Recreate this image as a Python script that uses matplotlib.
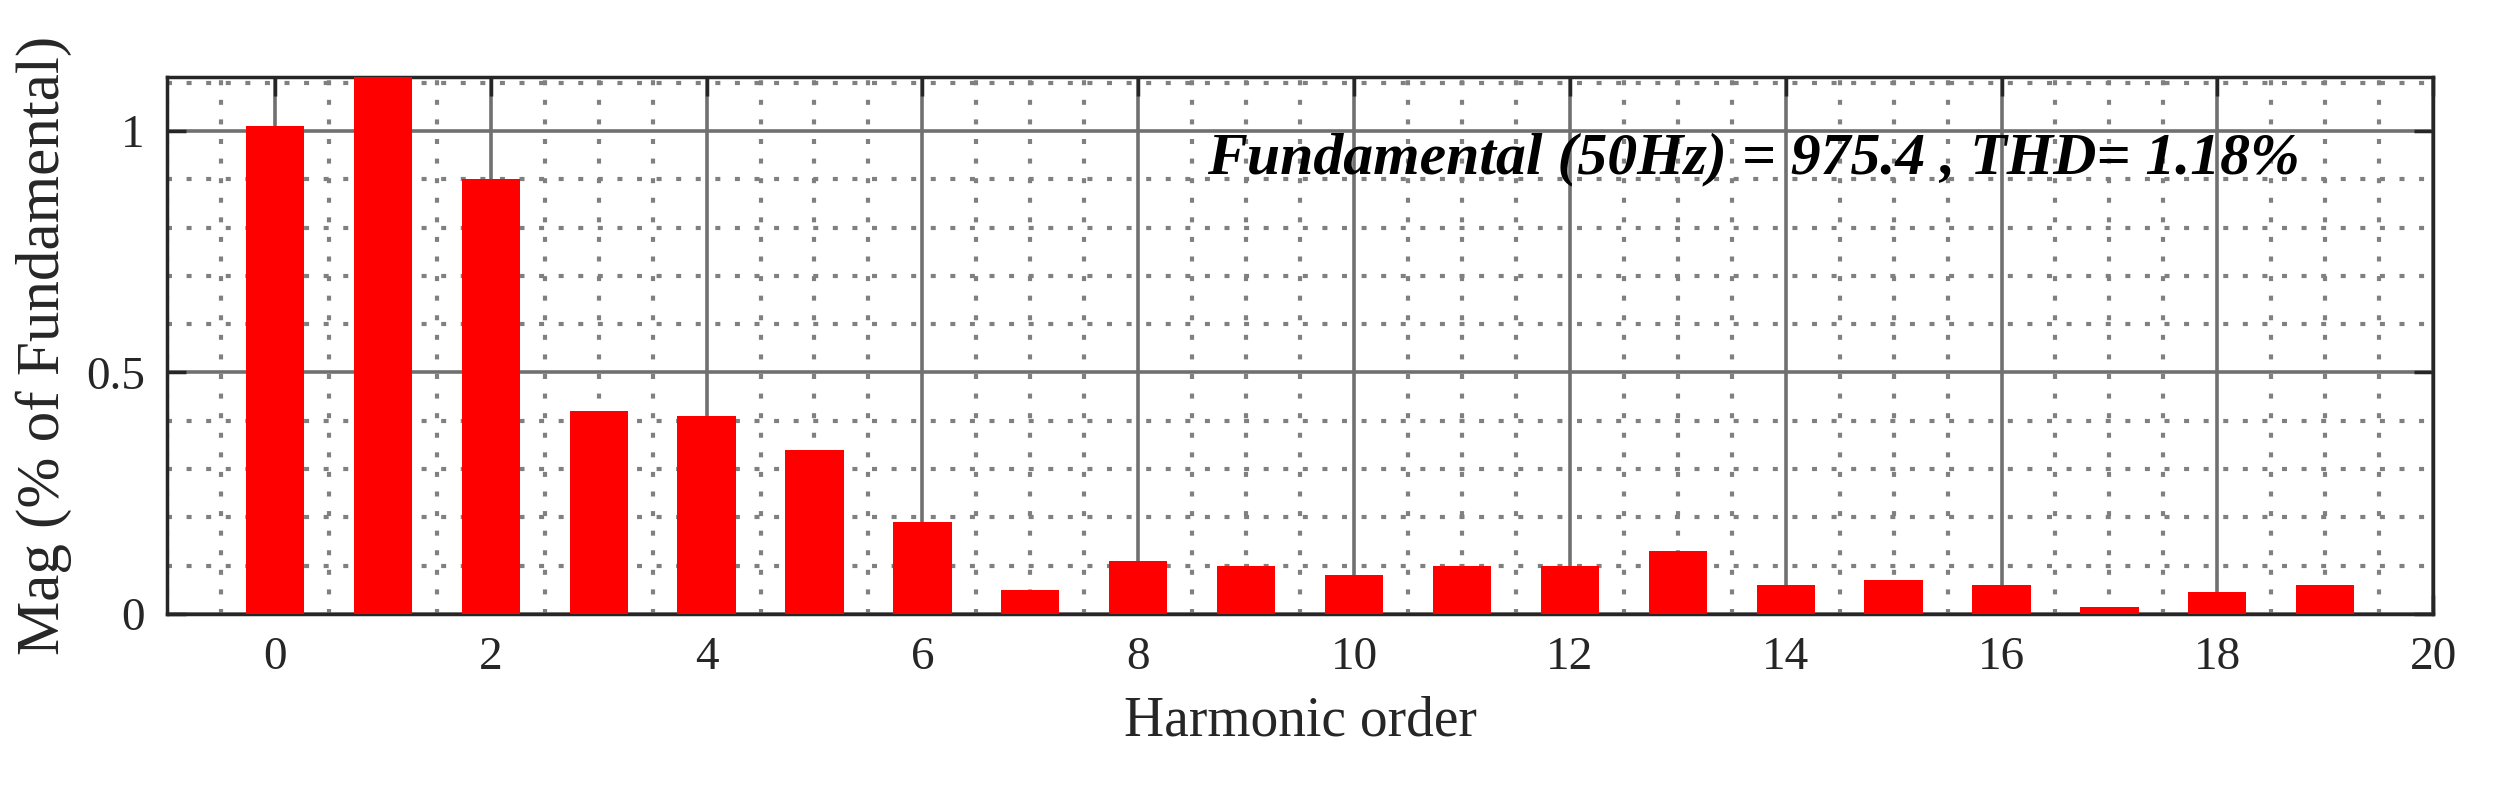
import matplotlib
matplotlib.use("Agg")
import matplotlib.pyplot as plt
import numpy as np
from matplotlib.ticker import MultipleLocator

plt.rcParams['font.family'] = ['Liberation Serif', 'DejaVu Serif']

harmonics = list(range(20))
magnitudes = [1.01, 1.12, 0.90, 0.42, 0.41, 0.34, 0.19, 0.05, 0.11, 0.10,
              0.08, 0.10, 0.10, 0.13, 0.06, 0.07, 0.06, 0.015, 0.045, 0.06]
xticks = list(range(0, 21, 2))
yticks = [0, 0.5, 1]
ytick_labels = ['0', '0.5', '1']

fig = plt.figure(figsize=(24.93, 7.89), dpi=100)
ax = fig.add_axes([0.067, 0.222, 0.909, 0.681])
ax.bar(harmonics, magnitudes, width=0.54, color='#ff0000', zorder=3)
ax.set_xlim(-1, 20)
ax.set_ylim(0, 1.113)
ax.set_xticks(xticks)
ax.set_yticks(yticks)
ax.set_yticklabels(ytick_labels)
ax.xaxis.set_minor_locator(MultipleLocator(0.5))
ax.yaxis.set_minor_locator(MultipleLocator(0.1))
ax.grid(which='major', color='#707070', linewidth=2.6, zorder=1)
ax.grid(which='minor', color='#808080', linestyle=(0, (1.2, 3.5)), linewidth=3, zorder=1)
ax.tick_params(which='major', direction='in', length=14, width=2.5, labelsize=34,
               top=True, right=True, pad=16, colors='#262626')
ax.tick_params(which='minor', length=0)
for s in ax.spines.values():
    s.set_linewidth(2.5)
    s.set_color('#262626')
ax.set_xlabel('Harmonic order', fontsize=40, color='#262626', labelpad=12)
ax.set_ylabel('Mag (% of Fundamental)', fontsize=44, color='#262626', labelpad=10)
ax.text(0.70, 0.845, 'Fundamental (50Hz) = 975.4 , THD= 1.18%', transform=ax.transAxes,
        ha='center', va='center', fontsize=43, fontweight='bold', fontstyle='italic', zorder=5)
fig.savefig('out.png', dpi=100, facecolor='white')
